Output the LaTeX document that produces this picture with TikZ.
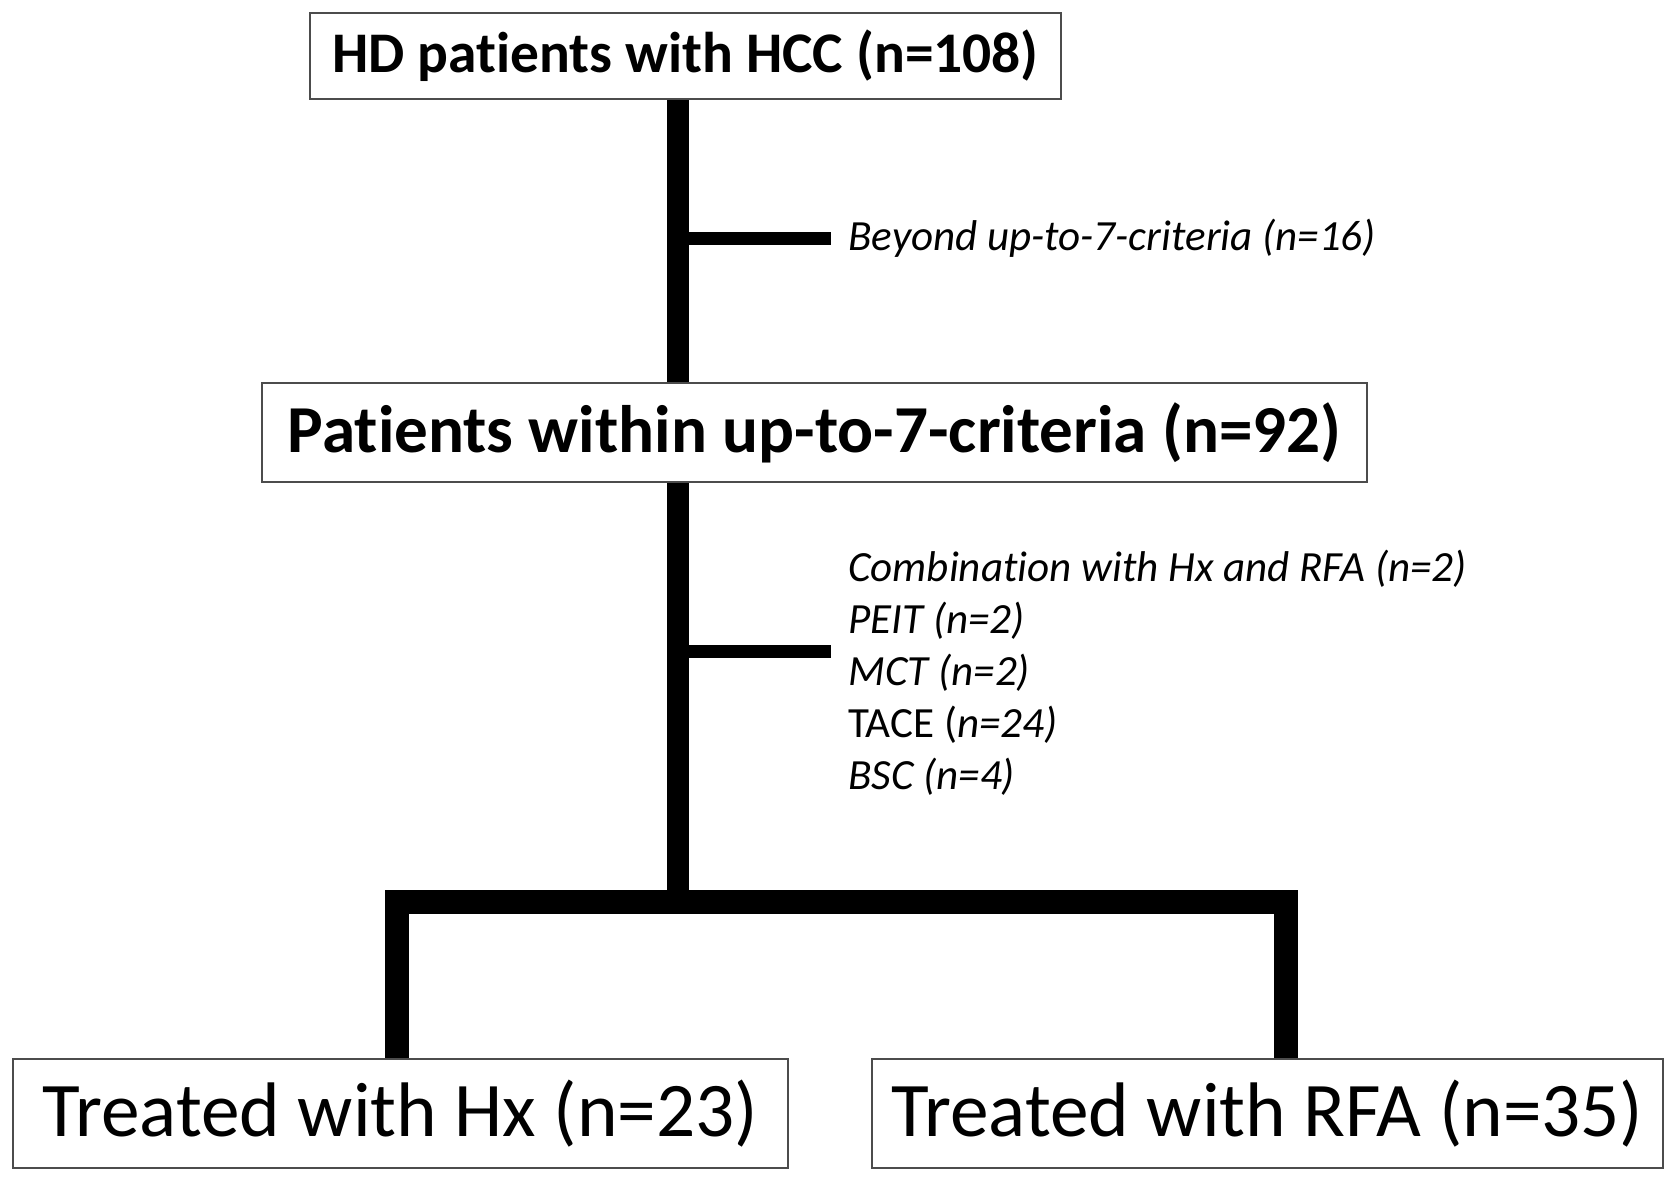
\documentclass[tikz,border=0pt]{standalone}
\usepackage{fontspec}
\setmainfont{Carlito}[Ligatures=NoCommon]
\usepackage{tikz}

\begin{document}
\begin{tikzpicture}[x=0.02cm,y=-0.02cm,
  box/.style={draw=black!70,line width=1.2pt,inner sep=0pt,align=center},
  trunk/.style={line width=13pt},
  branch/.style={line width=7.4pt},
  note/.style={anchor=west,inner xsep=0.34cm,inner ysep=0pt,align=left,font=\fontsize{24.5}{29.6}\selectfont\itshape}]

\useasboundingbox (0,0) rectangle (1677,1181);

\node[box,minimum width=15.02cm,minimum height=1.72cm,font=\fontsize{32.7}{36}\selectfont\bfseries] (top) at (685.5,56) {HD patients with HCC (n=108)};

\node[box,minimum width=22.1cm,minimum height=1.98cm,font=\fontsize{38.2}{42}\selectfont\bfseries] (mid) at (814.5,432.5) {Patients within up-to-7-criteria (n=92)};

\node[box,minimum width=15.5cm,minimum height=2.18cm,font=\fontsize{44}{48}\selectfont] (hx) at (400.5,1113.5) {Treated with Hx (n=23)};
\node[box,minimum width=15.82cm,minimum height=2.18cm,font=\fontsize{44}{48}\selectfont] (rfa) at (1267.5,1113.5) {Treated with RFA (n=35)};

\coordinate (j1) at (678,238);
\coordinate (j2) at (678,651);
\coordinate (j3) at (678,902);
\coordinate (l1) at (397,902);
\coordinate (l2) at (1286,902);

\node[note] (ex1) at (831,238) {Beyond up-to-7-criteria (n=16)};
\node[note] (ex2) at (831,672.5) {Combination with Hx and RFA (n=2)\\
PEIT (n=2)\\
MCT (n=2)\\
\upshape TACE (\textit{n=24)}\\
BSC (n=4)};

\draw[trunk] (top.south -| j1) -- (mid.north -| j1);
\draw[branch] (j1) -- (ex1.west);

\draw[trunk] (mid.south -| j2) -- (j3);
\draw[branch] (j2) -- (j2 -| ex2.west);

\draw[line width=13.5pt,line join=miter] (l1 |- hx.north) -- (l1) -- (l2) -- (l2 |- rfa.north);

\end{tikzpicture}
\end{document}
